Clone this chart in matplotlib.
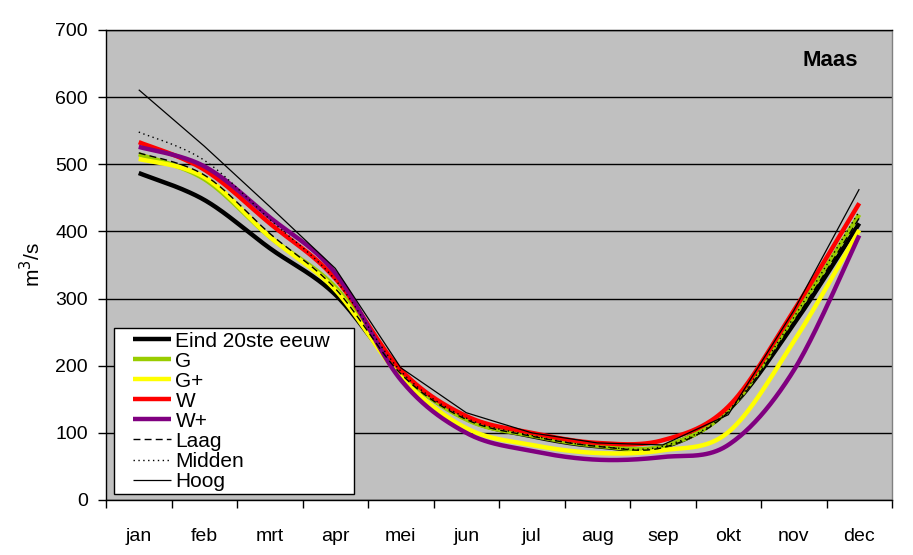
import numpy as np
import matplotlib
matplotlib.use("Agg")
import matplotlib.pyplot as plt
from matplotlib.ticker import FixedLocator, NullFormatter
from matplotlib.legend_handler import HandlerLine2D

plt.rcParams['font.family'] = ['Liberation Sans', 'DejaVu Sans']

months = ['jan', 'feb', 'mrt', 'apr', 'mei', 'jun', 'jul', 'aug', 'sep', 'okt', 'nov', 'dec']

eind = [487, 447, 375, 306, 189, 121, 95, 80, 79, 134, 262, 412]
g = [515, 478, 392, 317, 190, 120, 96, 81, 80, 134, 273, 425]
g_plus = [508, 481, 392, 313, 183, 107, 82, 70, 74, 101, 236, 402]
w = [533, 492, 412, 330, 194, 125, 100, 85, 89, 139, 282, 442]
w_plus = [526, 497, 421, 338, 179, 100, 73, 60, 64, 82, 193, 394]
laag = [517, 484, 397, 315, 188, 120, 95, 80, 78, 131, 266, 420]
midden = [548, 506, 418, 328, 192, 122, 96, 80, 80, 133, 272, 430]
hoog = [611, 527, 437, 345, 197, 130, 100, 85, 82, 127, 282, 463]


def smooth(xs, ys, n=40):
    xs = np.asarray(xs, float)
    ys = np.asarray(ys, float)
    px, py = [], []
    m = len(xs)
    for i in range(m - 1):
        i0 = max(i - 1, 0)
        i3 = min(i + 2, m - 1)
        b0 = np.array([xs[i], ys[i]])
        b3 = np.array([xs[i + 1], ys[i + 1]])
        b1 = b0 + (np.array([xs[i + 1], ys[i + 1]]) - np.array([xs[i0], ys[i0]])) / 6.0
        b2 = b3 - (np.array([xs[i3], ys[i3]]) - np.array([xs[i], ys[i]])) / 6.0
        t = np.linspace(0, 1, n)[:, None]
        pts = ((1 - t) ** 3) * b0 + 3 * ((1 - t) ** 2) * t * b1 + 3 * (1 - t) * t ** 2 * b2 + t ** 3 * b3
        if i > 0:
            pts = pts[1:]
        px.extend(pts[:, 0])
        py.extend(pts[:, 1])
    return np.array(px), np.array(py)


class LeadHandler(HandlerLine2D):
    """Line handle drawn only on the right part of the handle box (left padding)."""
    def __init__(self, lead_frac=0.3, **kw):
        super().__init__(**kw)
        self.lead_frac = lead_frac

    def get_xdata(self, legend, xdescent, ydescent, width, height, fontsize):
        x0 = -xdescent + self.lead_frac * width
        x1 = -xdescent + width
        xdata = np.array([x0, x1])
        return xdata, np.array([(x0 + x1) / 2])


fig = plt.figure(figsize=(9.13, 5.55), dpi=100)
ax = fig.add_axes([106 / 913, 55 / 555, 786 / 913, 470 / 555])
ax.set_facecolor('#C0C0C0')

x = np.arange(len(months))
series = [
    ('Eind 20ste eeuw', eind, dict(color='black', lw=3.2, ls='-'), True),
    ('G', g, dict(color='#99CC00', lw=3.2, ls='-'), True),
    ('G+', g_plus, dict(color='#FFFF00', lw=3.2, ls='-'), True),
    ('W', w, dict(color='#FF0000', lw=3.2, ls='-'), True),
    ('W+', w_plus, dict(color='#800080', lw=3.2, ls='-'), True),
    ('Laag', laag, dict(color='black', lw=1.0, ls=(0, (5, 3))), True),
    ('Midden', midden, dict(color='black', lw=1.0, ls=(0, (1, 2.5))), True),
    ('Hoog', hoog, dict(color='black', lw=0.9, ls='-'), False),
]

handles = []
for name, vals, style, sm in series:
    if sm:
        sx, sy = smooth(x, vals)
    else:
        sx, sy = x, np.asarray(vals, float)
    ln, = ax.plot(sx, sy, label=name, solid_capstyle='butt', **style)
    handles.append(ln)

ax.set_xlim(-0.5, len(months) - 0.5)
ax.set_ylim(0, 700)
ax.set_yticks(np.arange(0, 701, 100))
ax.yaxis.grid(True, color='black', lw=1.0)
ax.set_axisbelow(True)

ax.set_xticks(x)
ax.set_xticklabels(months)
ax.xaxis.set_minor_locator(FixedLocator(np.arange(-0.5, len(months), 1.0)))
ax.xaxis.set_minor_formatter(NullFormatter())
ax.tick_params(axis='x', which='major', length=0, pad=20, labelsize=14)
ax.tick_params(axis='x', which='minor', length=6, width=1, direction='out')
ax.tick_params(axis='y', which='major', length=6, width=1, direction='out', pad=7, labelsize=14)

for s in ['left', 'bottom', 'top']:
    ax.spines[s].set_color('black')
    ax.spines[s].set_linewidth(1.0)
ax.spines['right'].set_color('#808080')
ax.spines['right'].set_linewidth(1.0)

ax.set_ylabel('m$^3$/s', fontsize=15, labelpad=8)

ax.text(0.957, 0.935, 'Maas', transform=ax.transAxes, ha='right', va='center',
        fontsize=16, fontweight='bold')

hmap = {h: LeadHandler(lead_frac=0.3) for h in handles}
leg = ax.legend(handles=handles, loc='lower left',
                bbox_to_anchor=(8 / 786, 6 / 470, 240 / 786, 0.3), mode='expand',
                fontsize=15, frameon=True, fancybox=False, framealpha=1, edgecolor='black',
                borderpad=0.15, labelspacing=0.05, handlelength=2.6,
                handletextpad=0.2, borderaxespad=0, handler_map=hmap)
leg.get_frame().set_linewidth(1.0)

fig.savefig('out.png', dpi=100)
